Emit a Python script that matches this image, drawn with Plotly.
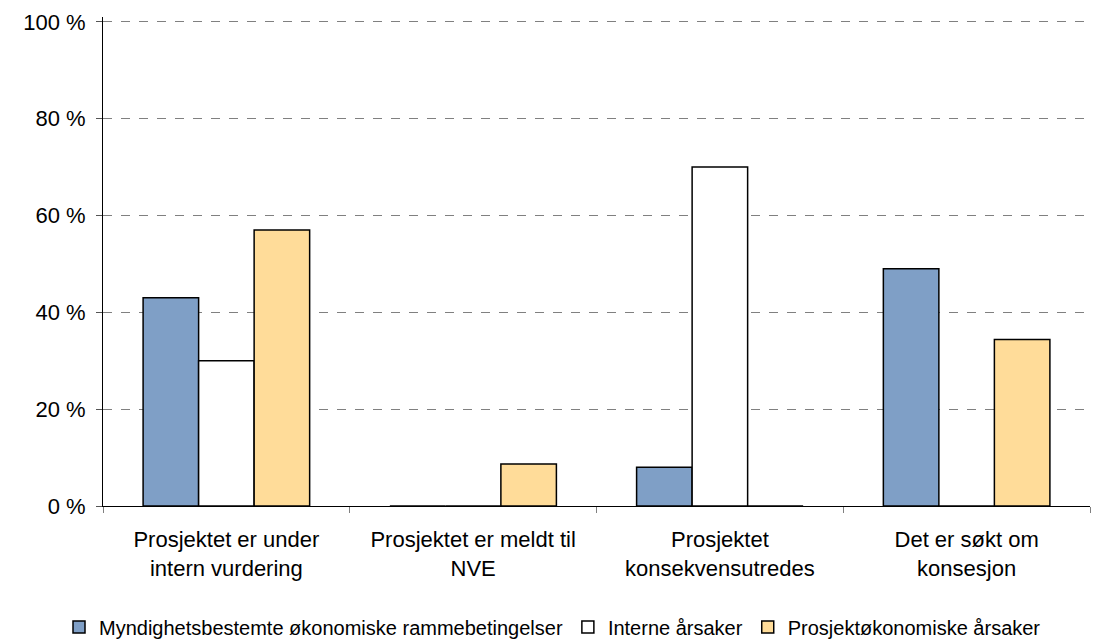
import plotly.graph_objects as go

categories = [
    "Prosjektet er under<br>intern vurdering",
    "Prosjektet er meldt til<br>NVE",
    "Prosjektet<br>konsekvensutredes",
    "Det er søkt om<br>konsesjon",
]
series_names = [
    "Myndighetsbestemte økonomiske rammebetingelser",
    "Interne årsaker",
    "Prosjektøkonomiske årsaker",
]
myndighet = [43, 0, 8, 49]
interne = [30, 0, 70, 0]
prosjekt = [57, 8.7, 0, 34.4]
y_ticks = [0, 20, 40, 60, 80, 100]
y_tick_labels = ["0 %", "20 %", "40 %", "60 %", "80 %", "100 %"]

colors = ["#7F9FC6", "#FFFFFF", "#FFDC99"]
values = [myndighet, interne, prosjekt]

fig = go.Figure()
for name, vals, col in zip(series_names, values, colors):
    fig.add_trace(go.Bar(
        x=categories, y=vals, name=name,
        marker=dict(color=col, line=dict(color="#000000", width=1.5)),
    ))

font = dict(family="Liberation Sans, Arial, sans-serif", size=22, color="#000000")
legend_font = dict(family="Liberation Sans, Arial, sans-serif", size=20, color="#000000")

fig.update_layout(
    width=1105, height=643,
    margin=dict(l=103, r=15, t=17, b=137, autoexpand=False),
    paper_bgcolor="#FFFFFF", plot_bgcolor="#FFFFFF",
    barmode="group", bargap=0.325, bargroupgap=0,
    font=font,
    showlegend=True,
    legend=dict(
        orientation="h", x=0.5, xref="container", xanchor="center",
        y=0.025, yref="container", yanchor="middle",
        font=legend_font, itemwidth=30, traceorder="normal",
        tracegroupgap=0,
    ),
)
fig.update_xaxes(
    type="category", showline=True, linecolor="#000000", linewidth=1,
    ticks="outside", tickson="boundaries", ticklen=6, tickcolor="#808080",
    showgrid=False, tickfont=font, ticklabelstandoff=14,
)
fig.update_yaxes(
    range=[0, 101], tickvals=y_ticks, ticktext=y_tick_labels,
    showline=True, linecolor="#000000", linewidth=1,
    ticks="outside", ticklen=6, tickcolor="#555555",
    showgrid=True, gridcolor="#808080", griddash="dash", gridwidth=1,
    zeroline=False, tickfont=font, ticklabelstandoff=6,
)

fig.write_html("out.html")
